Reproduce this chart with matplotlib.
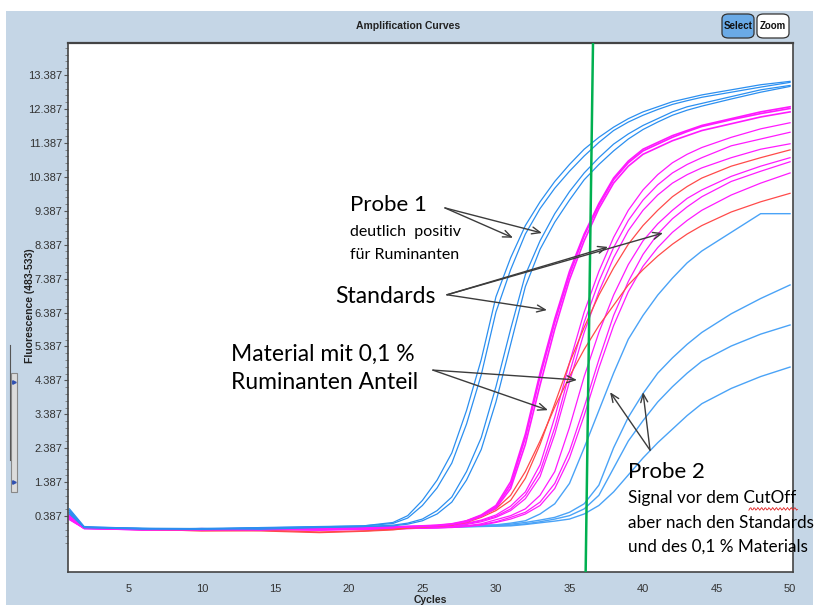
import matplotlib
matplotlib.use('Agg')
import matplotlib.pyplot as plt
from matplotlib.patches import FancyBboxPatch, Rectangle
import numpy as np

# shared cycle grid for all read-off curves
cycles = [1, 2, 6, 10, 14, 18, 21, 23, 24, 25, 26, 27, 28, 29, 30, 31, 32, 33,
          34, 35, 36, 37, 38, 39, 40, 41, 42, 43, 44, 46, 48, 50]

# Probe 1 (clearly positive), four blue curves
probe1_a1 = [0.6, 0.08, 0.02, 0.0, 0.05, 0.08, 0.1, 0.2, 0.4, 0.85, 1.45, 2.25, 3.5, 5.0, 6.85, 8.0,
             8.95, 9.65, 10.25, 10.75, 11.2, 11.55, 11.85, 12.1, 12.3, 12.45, 12.6, 12.7, 12.8, 12.95, 13.1, 13.2]
probe1_a2 = [0.55, 0.06, 0.03, 0.02, 0.04, 0.07, 0.1, 0.17, 0.33, 0.7, 1.22, 1.95, 3.1, 4.55, 6.4, 7.65,
             8.7, 9.45, 10.05, 10.55, 11.0, 11.4, 11.75, 12.0, 12.2, 12.37, 12.52, 12.63, 12.73, 12.88, 13.03, 13.17]
probe1_b1 = [0.5, 0.05, 0.0, 0.02, 0.0, 0.05, 0.08, 0.12, 0.18, 0.3, 0.55, 0.95, 1.7, 2.7, 4.2, 5.9,
             7.5, 8.5, 9.3, 9.95, 10.5, 10.95, 11.35, 11.65, 11.9, 12.1, 12.3, 12.45, 12.55, 12.75, 12.95, 13.08]
probe1_b2 = [0.45, 0.05, 0.02, 0.0, 0.03, 0.06, 0.08, 0.1, 0.15, 0.25, 0.45, 0.8, 1.45, 2.35, 3.75, 5.45,
             7.15, 8.25, 9.05, 9.7, 10.3, 10.75, 11.15, 11.5, 11.78, 12.0, 12.2, 12.35, 12.47, 12.68, 12.88, 13.05]

# standards (magenta)
std_1 = [0.4, 0.05, 0.0, -0.02, 0.0, 0.02, 0.05, 0.07, 0.08, 0.1, 0.12, 0.16, 0.25, 0.42, 0.7, 1.4,
         2.8, 4.6, 6.2, 7.6, 8.7, 9.6, 10.35, 10.85, 11.2, 11.4, 11.6, 11.75, 11.9, 12.1, 12.3, 12.45]
std_2 = [0.35, 0.04, 0.01, 0.0, -0.02, 0.03, 0.04, 0.06, 0.08, 0.09, 0.11, 0.15, 0.23, 0.4, 0.66, 1.3,
         2.7, 4.5, 6.1, 7.5, 8.65, 9.55, 10.3, 10.8, 11.15, 11.35, 11.55, 11.72, 11.87, 12.07, 12.25, 12.4]
std_3 = [0.38, 0.03, -0.02, 0.0, 0.02, 0.0, 0.04, 0.05, 0.07, 0.08, 0.1, 0.14, 0.22, 0.38, 0.62, 1.2,
         2.5, 4.25, 5.9, 7.35, 8.5, 9.45, 10.2, 10.7, 11.05, 11.25, 11.45, 11.6, 11.75, 11.95, 12.15, 12.3]
std_4 = [0.33, 0.04, 0.0, 0.02, -0.03, 0.0, 0.03, 0.05, 0.06, 0.07, 0.09, 0.12, 0.18, 0.27, 0.42, 0.68,
         1.1, 1.9, 3.3, 4.9, 6.4, 7.6, 8.6, 9.4, 10.0, 10.45, 10.8, 11.05, 11.25, 11.55, 11.8, 11.98]
std_5 = [0.3, 0.03, 0.01, -0.02, 0.0, -0.03, 0.02, 0.04, 0.05, 0.06, 0.08, 0.1, 0.16, 0.25, 0.38, 0.6,
         1.0, 1.7, 3.0, 4.6, 6.1, 7.3, 8.3, 9.1, 9.7, 10.15, 10.5, 10.75, 10.95, 11.3, 11.5, 11.7]
std_6 = [0.32, 0.02, -0.02, 0.0, 0.02, -0.02, 0.0, 0.03, 0.04, 0.05, 0.07, 0.09, 0.14, 0.22, 0.35, 0.55,
         0.9, 1.55, 2.8, 4.35, 5.8, 7.0, 8.0, 8.8, 9.4, 9.85, 10.2, 10.45, 10.65, 10.95, 11.2, 11.36]
std_7 = [0.3, 0.03, 0.0, 0.02, 0.0, -0.02, 0.0, 0.02, 0.03, 0.04, 0.05, 0.07, 0.1, 0.16, 0.28, 0.4,
         0.6, 1.0, 1.7, 3.0, 4.5, 5.8, 6.9, 7.8, 8.5, 9.0, 9.4, 9.75, 10.0, 10.4, 10.7, 10.95]
std_8 = [0.28, 0.02, 0.01, -0.02, 0.02, 0.0, -0.02, 0.01, 0.02, 0.03, 0.04, 0.06, 0.09, 0.14, 0.22, 0.35,
         0.5, 0.8, 1.35, 2.3, 3.6, 5.0, 6.3, 7.3, 8.1, 8.7, 9.15, 9.5, 9.8, 10.25, 10.55, 10.83]
std_9 = [0.3, 0.03, -0.01, 0.0, -0.02, 0.02, 0.0, 0.0, 0.02, 0.03, 0.04, 0.05, 0.08, 0.12, 0.2, 0.3,
         0.45, 0.7, 1.2, 2.1, 3.35, 4.75, 6.0, 7.0, 7.75, 8.3, 8.75, 9.1, 9.4, 9.85, 10.2, 10.5]

# material with 0.1 % ruminant share (red)
mat_1 = [0.42, 0.06, 0.0, -0.05, -0.03, -0.08, -0.05, 0.0, 0.05, 0.07, 0.1, 0.13, 0.2, 0.35, 0.55, 0.85,
         1.5, 2.5, 3.7, 4.9, 5.95, 6.9, 7.7, 8.4, 8.95, 9.4, 9.8, 10.1, 10.35, 10.7, 10.95, 11.18]
mat_2 = [0.36, 0.05, -0.02, -0.04, -0.05, -0.1, -0.06, -0.02, 0.03, 0.06, 0.09, 0.12, 0.25, 0.4, 0.6, 1.0,
         1.7, 2.6, 3.6, 4.5, 5.3, 6.0, 6.6, 7.2, 7.65, 8.05, 8.4, 8.7, 8.95, 9.35, 9.65, 9.9]

# Probe 2 (late signal), light blue
probe2_a = [0.55, 0.05, 0.0, 0.02, 0.04, 0.05, 0.06, 0.07, 0.08, 0.08, 0.09, 0.1, 0.1, 0.12, 0.13, 0.18,
            0.25, 0.45, 0.75, 1.35, 2.4, 3.5, 4.6, 5.6, 6.3, 6.9, 7.4, 7.85, 8.2, 8.75, 9.3, 9.3]
probe2_b = [0.5, 0.04, 0.02, 0.0, 0.03, 0.04, 0.05, 0.06, 0.06, 0.07, 0.08, 0.08, 0.1, 0.11, 0.12, 0.15,
            0.2, 0.27, 0.35, 0.5, 0.75, 1.3, 2.4, 3.3, 4.0, 4.6, 5.05, 5.45, 5.8, 6.35, 6.8, 7.2]
probe2_c = [0.45, 0.03, 0.0, 0.02, 0.0, 0.03, 0.04, 0.05, 0.05, 0.06, 0.06, 0.07, 0.08, 0.09, 0.1, 0.12,
            0.16, 0.22, 0.3, 0.4, 0.6, 1.0, 1.8, 2.6, 3.2, 3.75, 4.2, 4.6, 4.95, 5.4, 5.75, 6.02]
probe2_d = [0.4, 0.02, 0.01, 0.0, 0.02, 0.02, 0.03, 0.04, 0.04, 0.05, 0.05, 0.06, 0.07, 0.08, 0.09, 0.1,
            0.14, 0.19, 0.24, 0.3, 0.45, 0.7, 1.1, 1.6, 2.1, 2.55, 2.95, 3.35, 3.7, 4.15, 4.5, 4.78]

cutoff_cycles = [36.1, 36.6]
y_ticks = [0.387 + k for k in range(14)]
x_ticks = [5, 10, 15, 20, 25, 30, 35, 40, 45, 50]

PANEL = '#c5d6e6'
BLUE_1 = '#2b8ff0'
BLUE_2 = '#4aa3f7'
MAGENTA = '#ff1aff'
RED = '#ff4a4a'
ARROW = '#3c3c3c'
NARROW = ['Liberation Sans', 'DejaVu Sans']
NOTE = ['Lato', 'DejaVu Sans']

fig = plt.figure(figsize=(8.22, 6.05), dpi=100)
fig.patch.set_facecolor('white')
fig.patches.append(Rectangle((6 / 822, 0), 807 / 822, 1 - 11 / 605, transform=fig.transFigure,
                             facecolor=PANEL, edgecolor='none', zorder=-5))

ax = fig.add_axes([68 / 822, 1 - 572 / 605, 725 / 822, 529 / 605])
ax.set_facecolor('white')
ax.set_zorder(1)

for vals in [probe2_d, probe2_c, probe2_b, probe2_a]:
    ax.plot(cycles, vals, color=BLUE_2, lw=1.0)
for vals in [std_9, std_8, std_7, std_6, std_5, std_4]:
    ax.plot(cycles, vals, color=MAGENTA, lw=0.9)
for vals in [mat_2, mat_1]:
    ax.plot(cycles, vals, color=RED, lw=0.9)
for vals in [std_3, std_2, std_1]:
    ax.plot(cycles, vals, color=MAGENTA, lw=1.2)
for vals in [probe1_b2, probe1_b1, probe1_a2, probe1_a1]:
    ax.plot(cycles, vals, color=BLUE_1, lw=0.9)

ax.set_xlim(0.9, 50.2)
ax.set_ylim(-1.26, 14.33)
ax.plot(cutoff_cycles, [-1.26, 14.33], color='#00b050', lw=1.8, zorder=5)

ax.set_yticks(y_ticks)
ax.set_yticklabels([f'{t:.3f}' for t in y_ticks])
ax.set_yticks([t + d for t in [-0.613] + y_ticks for d in (0.2, 0.4, 0.6, 0.8)
               if -1.26 < t + d < 14.33], minor=True)
ax.set_xticks(x_ticks)
ax.tick_params(axis='y', which='major', length=3, width=0.8, color='#555555', pad=1,
               labelsize=8, labelcolor='#333333')
ax.tick_params(axis='y', which='minor', length=2, width=0.6, color='#777777')
ax.tick_params(axis='x', length=0, pad=9, labelsize=8, labelcolor='#333333')
for lab in ax.get_xticklabels() + ax.get_yticklabels():
    lab.set_family(NARROW)
for side in ['top', 'bottom', 'left', 'right']:
    ax.spines[side].set_color('#444444')
    ax.spines[side].set_linewidth(1.2)
ax.spines['top'].set_linewidth(1.6)

fig.text(408 / 822, 1 - 26 / 605, 'Amplification Curves', ha='center', va='center',
         fontsize=7.5, fontweight='bold', family=NARROW, color='#222222')
fig.text(30 / 822, 1 - 306 / 605, 'Fluorescence (483-533)', ha='center', va='center',
         rotation=90, fontsize=7.5, fontweight='bold', family=NARROW, color='#222222')
fig.text(430 / 822, 1 - 600 / 605, 'Cycles', ha='center', va='center',
         fontsize=7.5, fontweight='bold', family=NARROW, color='#222222')

# Select / Zoom buttons
for x0, label, face in [(722, 'Select', '#6aaae6'), (757, 'Zoom', 'white')]:
    fig.patches.append(FancyBboxPatch((x0 / 822, 1 - 38 / 605), 32 / 822, 24 / 605,
                                      boxstyle='round,pad=0,rounding_size=0.008',
                                      transform=fig.transFigure, facecolor=face,
                                      edgecolor='#333333', lw=0.9, zorder=2))
    fig.text((x0 + 16) / 822, 1 - 26 / 605, label, ha='center', va='center', fontsize=7,
             fontweight='bold', family=NARROW, color='#111111', zorder=3)

# small scroll widget on the left
fig.patches.append(Rectangle((11 / 822, 1 - 492 / 605), 6 / 822, 119 / 605, transform=fig.transFigure,
                             facecolor='#dcdcdc', edgecolor='#888888', lw=0.8, zorder=2))
fig.lines.append(plt.Line2D([9.5 / 822, 9.5 / 822], [1 - 460 / 605, 1 - 345 / 605],
                            transform=fig.transFigure, color='#555555', lw=0.8))
for yy in [382, 482]:
    fig.lines.append(plt.Line2D([14 / 822], [1 - yy / 605], transform=fig.transFigure,
                                marker='>', color='#3050b0', markersize=2.5, zorder=3))

# annotations
def note(x, y, s, size):
    ax.text(x, y, s, ha='left', va='center', fontsize=size, family=NOTE, color='black',
            zorder=7, clip_on=False)

note(20.07, 9.56, 'Probe 1', 16)
note(20.07, 8.76, 'deutlich  positiv', 11.5)
note(20.07, 8.09, 'für Ruminanten', 11.5)
note(19.05, 6.85, 'Standards', 16.5)
note(11.97, 5.14, 'Material mit 0,1 %', 16.5)
note(11.97, 4.31, 'Ruminanten Anteil', 16.5)
note(38.98, 1.68, 'Probe 2', 16)
note(38.98, 0.92, 'Signal vor dem CutOff', 12.3)
note(38.98, 0.18, 'aber nach den Standards', 12.3)
note(38.98, -0.5, 'und des 0,1 % Materials', 12.3)

# spell-check squiggle under "CutOff"
sq_x = np.linspace(47.2, 50.5, 50)
ax.plot(sq_x, 0.6 + 0.04 * np.sin(sq_x * 25), color='#e02020', lw=0.6, clip_on=False, zorder=7)

arrows = [
    ((26.53, 9.47), [(31.16, 8.59), (33.13, 8.73)]),
    ((26.67, 6.91), [(37.62, 8.32), (41.36, 8.73), (33.47, 6.46)]),
    ((25.71, 4.69), [(35.51, 4.40), (33.54, 3.51)]),
    ((40.48, 2.33), [(37.76, 4.04), (40.0, 4.04)]),
]
for tail, heads in arrows:
    for head in heads:
        ax.annotate('', xy=head, xytext=tail, zorder=8,
                    arrowprops=dict(arrowstyle='->,head_length=0.6,head_width=0.25',
                                    color=ARROW, lw=1.0, shrinkA=0, shrinkB=0))

fig.savefig('out.png', dpi=100)
